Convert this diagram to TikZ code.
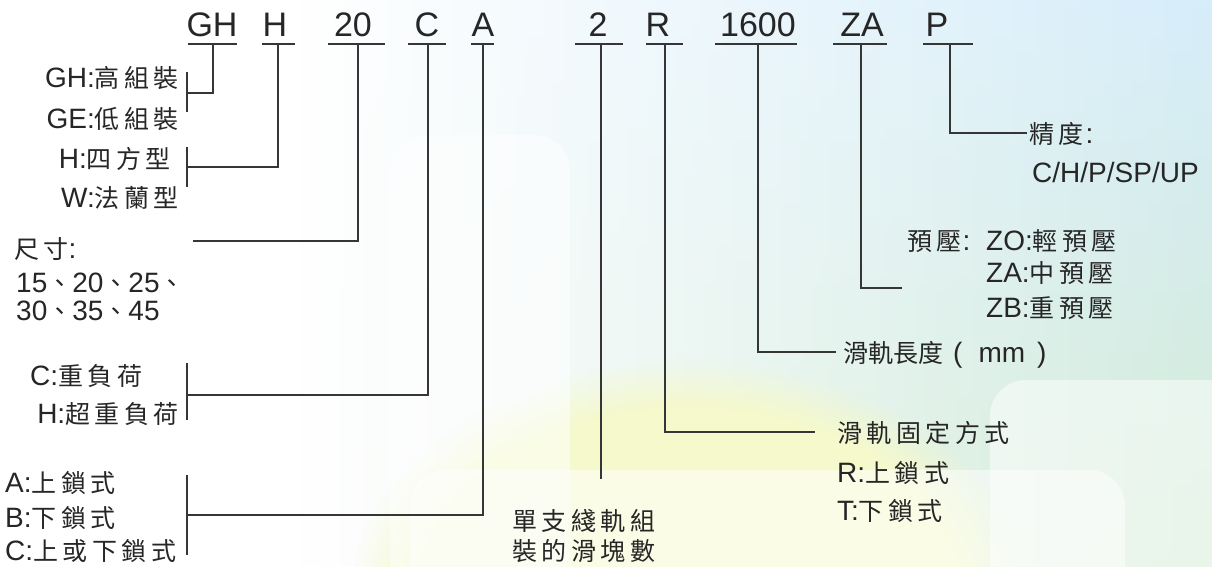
\documentclass[tikz,border=0pt]{standalone}
\usepackage{fontspec}
\setmainfont{Liberation Sans}
\newfontfamily\cjk{Noto Sans CJK TC}[Scale=0.893,LetterSpace=18]
\newfontfamily\cjkn{Noto Sans CJK TC}[Scale=0.893]
\usetikzlibrary{fadings}
\definecolor{bgblue}{HTML}{D6EDFA}
\definecolor{bggreen}{HTML}{D3EBD4}
\definecolor{bgyellow}{HTML}{F5F9CC}
\definecolor{ink}{HTML}{262626}
\definecolor{wire}{HTML}{363636}
\tikzfading[name=fromleft, left color=transparent!100, right color=transparent!0]
\newcommand\zh[1]{{\cjk #1}}
\newcommand\zhn[1]{{\cjkn #1}}
\tikzset{
  hdr/.style={anchor=base, inner sep=0pt, font=\fontsize{34}{36}\selectfont, text=ink},
  lab/.style={inner sep=0pt, font=\fontsize{28}{30}\selectfont, text=ink},
  labl/.style={lab, anchor=base west},
  labr/.style={lab, anchor=base east},
  wireline/.style={draw=wire, line width=1.8pt},
  panel/.style={fill=white, fill opacity=0.5, rounded corners=36pt},
}
\begin{document}
\begin{tikzpicture}[x=1pt,y=-1pt]
\useasboundingbox (0,0) rectangle (1213,566);
% background
\fill[white] (0,0) rectangle (1213,566);
\shade[top color=bgblue, bottom color=bggreen, path fading=fromleft] (300,0) rectangle (1213,566);
\fill[bgyellow, path fading=circle with fuzzy edge 20 percent] (690,600) ellipse (340 and 240);
\fill[panel] (390,135) rectangle (570,620);
\fill[panel] (410,470) rectangle (1125,620);
\fill[panel] (990,380) rectangle (1260,620);
% header
\node[hdr] (hGH) at (212,36) {GH};
\node[hdr] (hH) at (275,36) {H};
\node[hdr] (h20) at (353,36) {20};
\node[hdr] (hC) at (427,36) {C};
\node[hdr] (hA) at (483,36) {A};
\node[hdr] (h2) at (598,36) {2};
\node[hdr] (hR) at (658,36) {R};
\node[hdr] (h1600) at (758,36) {1600};
\node[hdr] (hZA) at (862,36) {ZA};
\node[hdr] (hP) at (937,36) {P};
\draw[wireline] (188,44) -- (237,44);
\draw[wireline] (262,44) -- (295,44);
\draw[wireline] (328,44) -- (385,44);
\draw[wireline] (408,44) -- (446,44);
\draw[wireline] (471,44) -- (494,44);
\draw[wireline] (575,44) -- (623,44);
\draw[wireline] (646,44) -- (683,44);
\draw[wireline] (715,44) -- (797,44);
\draw[wireline] (833,44) -- (887,44);
\draw[wireline] (923,44) -- (973,44);
% tick points
\coordinate (tGH) at (213,44);
\coordinate (tH) at (278,44);
\coordinate (t20) at (358,44);
\coordinate (tC) at (428,44);
\coordinate (tA) at (483,44);
\coordinate (t2) at (601,44);
\coordinate (tR) at (665,44);
\coordinate (t1600) at (758,44);
\coordinate (tZA) at (861,44);
\coordinate (tP) at (950,44);
% left labels
\node[labr] (gh) at (179,87) {GH:\zh{高組裝}};
\node[labr] (ge) at (179,128) {GE:\zh{低組裝}};
\node[labr] (hq) at (171,168) {H:\zh{四方型}};
\node[labr] (wf) at (179,207) {W:\zh{法蘭型}};
\node[labl] (size) at (14,258) {\zh{尺寸}:};
\node[labl] (size1) at (16,292) {15\zh{、}20\zh{、}25\zh{、}};
\node[labl] (size2) at (16,320) {30\zh{、}35\zh{、}45};
\node[labl] (lc) at (30,385) {C:\zh{重負荷}};
\node[labr] (lh) at (179,423) {H:\zh{超重負荷}};
\node[labl] (la) at (5,492) {A:\zh{上鎖式}};
\node[labl] (lb) at (5,527) {B:\zh{下鎖式}};
\node[labl] (lcc) at (5,560) {C:\zh{上或下鎖式}};
% bottom / right labels
\node[labl] (n2a) at (512,530) {\zh{單支綫軌組}};
\node[labl] (n2b) at (512,560) {\zh{裝的滑塊數}};
\node[labl] (rfix) at (837,442) {\zh{滑軌固定方式}};
\node[labl] (rr) at (837,482) {R:\zh{上鎖式}};
\node[labl] (rt) at (837,520) {T:\zh{下鎖式}};
\node[labl] (len) at (843,362) {\zhn{滑軌長度}\kern10pt(\kern16pt mm\kern12pt)};
\node[labl] (pre) at (907,250) {\zh{預壓}\kern1pt:};
\node[labl] (zo) at (986,250) {ZO:\zh{輕預壓}};
\node[labl] (zam) at (986,282) {ZA:\zh{中預壓}};
\node[labl] (zb) at (986,317) {ZB:\zh{重預壓}};
\node[labl] (acc) at (1029,143) {\zh{精度}\kern2pt:};
\node[labl] (accv) at (1032,182) {C/H/P/SP/UP};
% brackets and connector ends
\coordinate (bGH) at (187,93);
\coordinate (bH) at (187,167);
\coordinate (b20) at (193,241);
\coordinate (bC) at (187,395);
\coordinate (bA) at (187,515);
\coordinate (e2) at (601,479);
\coordinate (eR) at (815,432);
\coordinate (e1600) at (836,352);
\coordinate (eZA) at (902,288);
\coordinate (eP) at (1027,133);
\draw[wireline] (187,72) -- (187,112);
\draw[wireline] (187,147) -- (187,187);
\draw[wireline] (187,363) -- (187,420);
\draw[wireline] (187,475) -- (187,555);
% connectors
\draw[wireline] (tGH) |- (bGH);
\draw[wireline] (tH) |- (bH);
\draw[wireline] (t20) |- (b20);
\draw[wireline] (tC) |- (bC);
\draw[wireline] (tA) |- (bA);
\draw[wireline] (t2) -- (e2);
\draw[wireline] (tR) |- (eR);
\draw[wireline] (t1600) |- (e1600);
\draw[wireline] (tZA) |- (eZA);
\draw[wireline] (tP) |- (eP);
\end{tikzpicture}
\end{document}
